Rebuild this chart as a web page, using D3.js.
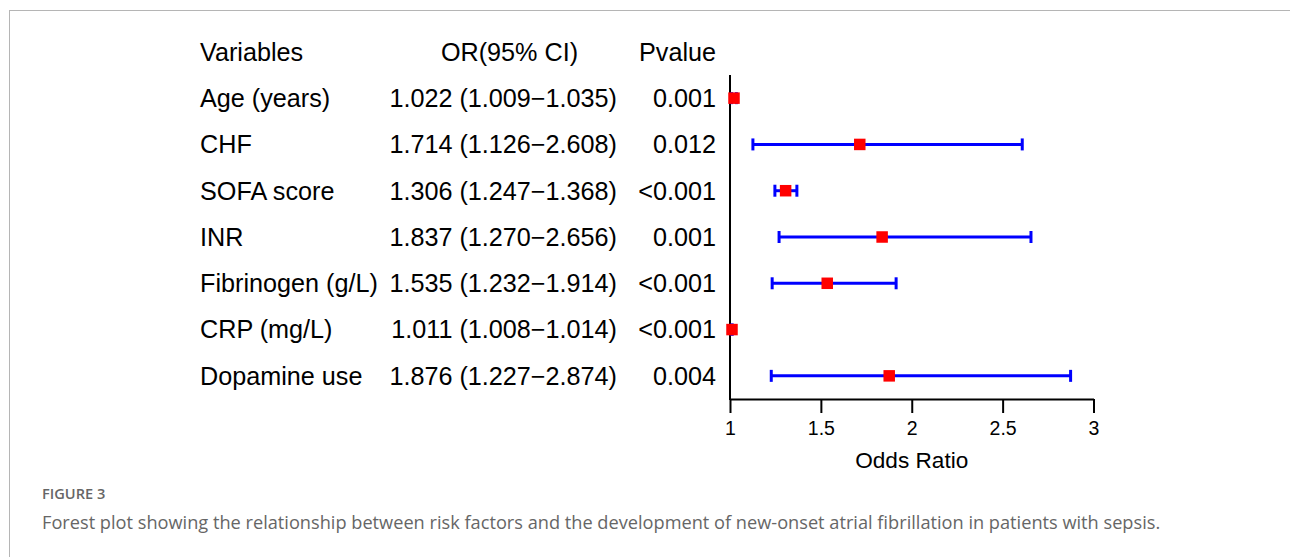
<!DOCTYPE html>
<html>
<head>
<meta charset="utf-8">
<script src="https://cdn.jsdelivr.net/npm/d3@7"></script>
<style>
  html, body { margin: 0; padding: 0; background: #fff; }
  svg { display: block; }
  .tbl { font-family: "Liberation Sans", Arial, Helvetica, sans-serif; font-size: 25.2px; fill: #000; }
  .axis text { font-family: "Liberation Sans", Arial, Helvetica, sans-serif; font-size: 19.5px; fill: #000; }
  .cap { font-family: "Open Sans", "Noto Sans", sans-serif; }
</style>
</head>
<body>
<svg id="chart" width="1290" height="557"></svg>
<script>
// Multivariable logistic regression results
const variables = ["Age (years)", "CHF", "SOFA score", "INR", "Fibrinogen (g/L)", "CRP (mg/L)", "Dopamine use"];
const oddsRatio = [1.022, 1.714, 1.306, 1.837, 1.535, 1.011, 1.876];
const ciLower   = [1.009, 1.126, 1.247, 1.270, 1.232, 1.008, 1.227];
const ciUpper   = [1.035, 2.608, 1.368, 2.656, 1.914, 1.014, 2.874];
const pValues   = ["0.001", "0.012", "<0.001", "0.001", "<0.001", "<0.001", "0.004"];
const headers   = ["Variables", "OR(95% CI)", "Pvalue"];
const xTicks    = [1, 1.5, 2, 2.5, 3];

const rows = variables.map((v, i) => ({
  name: v, or: oddsRatio[i], lo: ciLower[i], hi: ciUpper[i], p: pValues[i]
}));

const svg = d3.select("#chart");
const fmt = d3.format(".3f");

// Page frame
svg.append("line").attr("x1", 9).attr("x2", 1290).attr("y1", 10.5).attr("y2", 10.5)
  .attr("stroke", "#b5b5b5").attr("stroke-width", 1);
svg.append("line").attr("x1", 9.5).attr("x2", 9.5).attr("y1", 10).attr("y2", 557)
  .attr("stroke", "#b5b5b5").attr("stroke-width", 1);

// Scales
const x = d3.scaleLinear().domain([1, 3]).range([730, 1093.5]);
const y = d3.scaleBand().domain(variables).range([75, 399]).padding(0);
const yc = v => y(v) + y.bandwidth() / 2;
const headerY = y(variables[0]) - y.bandwidth() / 2;

// Table columns
const colVar = 200, colOR = 617, colP = 716;
const tbl = svg.append("g").attr("class", "tbl");

tbl.append("text").attr("x", colVar).attr("y", headerY).attr("dy", "0.35em").text(headers[0]);
tbl.append("text").attr("x", 509.5).attr("y", headerY).attr("dy", "0.35em")
  .attr("text-anchor", "middle").text(headers[1]);
tbl.append("text").attr("x", colP).attr("y", headerY).attr("dy", "0.35em")
  .attr("text-anchor", "end").text(headers[2]);

const r = tbl.selectAll("g.row").data(rows).join("g").attr("class", "row");
r.append("text").attr("x", colVar).attr("y", d => yc(d.name)).attr("dy", "0.35em").text(d => d.name);
r.append("text").attr("x", colOR).attr("y", d => yc(d.name)).attr("dy", "0.35em")
  .attr("text-anchor", "end")
  .text(d => `${fmt(d.or)} (${fmt(d.lo)}\u2212${fmt(d.hi)})`);
r.append("text").attr("x", colP).attr("y", d => yc(d.name)).attr("dy", "0.35em")
  .attr("text-anchor", "end").text(d => d.p);

// Axes
const xAxis = d3.axisBottom(x).tickValues(xTicks).tickFormat(d3.format("")).tickSize(14)
  .tickSizeOuter(0).tickPadding(8);
const gx = svg.append("g").attr("class", "axis").attr("transform", "translate(0,399)").call(xAxis);
gx.select(".domain").attr("stroke", "#000").attr("stroke-width", 2);
gx.selectAll(".tick line").attr("stroke", "#000").attr("stroke-width", 2);

svg.append("line").attr("x1", x(1)).attr("x2", x(1)).attr("y1", 75).attr("y2", 400)
  .attr("stroke", "#000").attr("stroke-width", 2);

svg.append("text").attr("class", "tbl").attr("x", (x(1) + x(3)) / 2).attr("y", 468)
  .attr("text-anchor", "middle").style("font-size", "22.6px").text("Odds Ratio");

// Confidence intervals
const ci = svg.append("g");
const capH = 6;
ci.selectAll("line.ci").data(rows).join("line").attr("class", "ci")
  .attr("x1", d => x(d.lo)).attr("x2", d => x(d.hi))
  .attr("y1", d => yc(d.name)).attr("y2", d => yc(d.name))
  .attr("stroke", "#0000ff").attr("stroke-width", 3);
ci.selectAll("line.lo").data(rows).join("line").attr("class", "lo")
  .attr("x1", d => x(d.lo)).attr("x2", d => x(d.lo))
  .attr("y1", d => yc(d.name) - capH).attr("y2", d => yc(d.name) + capH)
  .attr("stroke", "#0000ff").attr("stroke-width", 3);
ci.selectAll("line.hi").data(rows).join("line").attr("class", "hi")
  .attr("x1", d => x(d.hi)).attr("x2", d => x(d.hi))
  .attr("y1", d => yc(d.name) - capH).attr("y2", d => yc(d.name) + capH)
  .attr("stroke", "#0000ff").attr("stroke-width", 3);

// Point estimates
const sq = 11.5;
svg.append("g").selectAll("rect").data(rows).join("rect")
  .attr("x", d => x(d.or) - sq / 2).attr("y", d => yc(d.name) - sq / 2)
  .attr("width", sq).attr("height", sq).attr("fill", "#ff0000");

// Caption
svg.append("text").attr("class", "cap").attr("x", 42).attr("y", 499)
  .style("font-size", "14.6px").style("font-weight", 600).attr("fill", "#666")
  .text("FIGURE 3");
svg.append("text").attr("class", "cap").attr("x", 42).attr("y", 529)
  .style("font-size", "18.2px").attr("fill", "#666")
  .text("Forest plot showing the relationship between risk factors and the development of new-onset atrial fibrillation in patients with sepsis.");
</script>
</body>
</html>
